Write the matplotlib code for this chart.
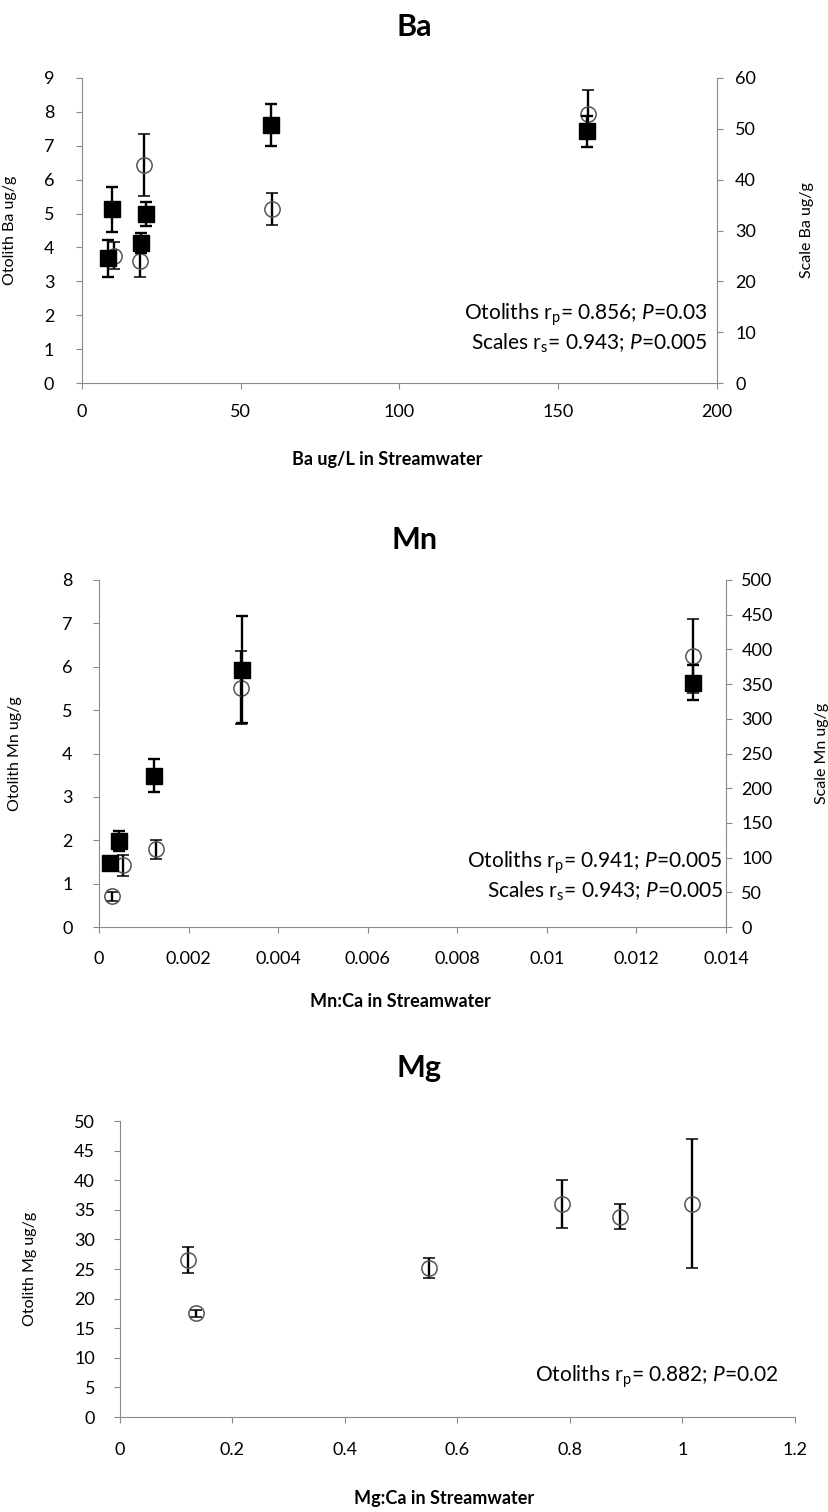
import numpy as np
import matplotlib
matplotlib.use("Agg")
import matplotlib.pyplot as plt

# ---- fonts ----
plt.rcParams['font.family'] = ['Lato', 'DejaVu Sans']
plt.rcParams['mathtext.fontset'] = 'custom'
plt.rcParams['mathtext.rm'] = 'Lato'
plt.rcParams['mathtext.it'] = 'Lato:italic'
plt.rcParams['mathtext.bf'] = 'Lato:bold'

# ---- Ba data ----
ba_oto_x = [10.2, 18.3, 19.6, 60.0, 159.3]
ba_oto_y = [3.75, 3.6, 6.43, 5.13, 7.95]
ba_oto_err = [0.4, 0.46, 0.92, 0.48, 0.7]
ba_scl_x = [8.3, 9.5, 18.5, 20.2, 59.4, 159.0]
ba_scl_y = [24.5, 34.2, 27.6, 33.2, 50.7, 49.5]
ba_scl_err = [3.7, 4.4, 2.0, 2.4, 4.1, 3.0]

# ---- Mn data ----
mn_oto_x = [0.00028, 0.00054, 0.00127, 0.00318, 0.01327]
mn_oto_y = [0.71, 1.42, 1.79, 5.52, 6.25]
mn_oto_err = [0.1, 0.24, 0.22, 0.85, 0.85]
mn_scl_x = [0.000255, 0.000447, 0.00123, 0.0032, 0.01327]
mn_scl_y = [92.5, 123.8, 218.0, 370.6, 352.0]
mn_scl_err = [6, 14, 24, 77, 25]

# ---- Mg data ----
mg_oto_x = [0.121, 0.135, 0.55, 0.785, 0.889, 1.017]
mg_oto_y = [26.5, 17.5, 25.2, 36.0, 33.8, 36.0]
mg_oto_err = [2.2, 0.6, 1.7, 4.0, 2.1, 10.9]

# ---- tick labels ----
ba_xticks = [0, 50, 100, 150, 200]
ba_yticks = list(range(0, 10))
ba_y2ticks = list(range(0, 61, 10))
mn_xticks = [0, 0.002, 0.004, 0.006, 0.008, 0.010, 0.012, 0.014]
mn_xlabels = ['0', '0.002', '0.004', '0.006', '0.008', '0.01', '0.012', '0.014']
mn_yticks = list(range(0, 9))
mn_y2ticks = list(range(0, 501, 50))
mg_xticks = [0, 0.2, 0.4, 0.6, 0.8, 1.0, 1.2]
mg_xlabels = ['0', '0.2', '0.4', '0.6', '0.8', '1', '1.2']
mg_yticks = list(range(0, 51, 5))

W, H = 829, 1512
fig = plt.figure(figsize=(W / 100, H / 100), dpi=100)
fig.patch.set_facecolor('white')

GREY = '#8a8a8a'
TICKFS = 13


def px_axes(l, r, t, b):
    return fig.add_axes([l / W, 1 - b / H, (r - l) / W, (b - t) / H])


def style(ax, right=False, xpad=11, ypad=14):
    for s in ['top', 'right', 'left', 'bottom']:
        ax.spines[s].set_visible(False)
    if right:
        ax.spines['right'].set_visible(True)
        ax.spines['right'].set_color(GREY)
    else:
        ax.spines['left'].set_visible(True)
        ax.spines['bottom'].set_visible(True)
        ax.spines['left'].set_color(GREY)
        ax.spines['bottom'].set_color(GREY)
    ax.tick_params(direction='out', length=4, color=GREY, labelsize=TICKFS)
    ax.tick_params(axis='x', pad=xpad)
    ax.tick_params(axis='y', pad=ypad)
    ax.set_facecolor('none')


def circles(ax, x, y, e):
    ax.errorbar(x, y, yerr=e, fmt='o', mfc='none', mec='#555555', mew=1.1, ms=11,
                ecolor='black', elinewidth=1.7, capsize=4, capthick=1.7, zorder=3)


def squares(ax, x, y, e):
    ax.errorbar(x, y, yerr=e, fmt='s', color='black', ms=11,
                ecolor='black', elinewidth=1.7, capsize=4, capthick=1.7, zorder=3)


def stats(ax, lines, xr, y0, dy):
    for i, t in enumerate(lines):
        ax.text(xr, y0 - i * dy, t, transform=ax.transAxes, ha='right', va='center',
                fontsize=15)


# ================= Ba =================
ax = px_axes(82, 717, 78, 383)
style(ax, xpad=11, ypad=16)
circles(ax, ba_oto_x, ba_oto_y, ba_oto_err)
ax.set_xlim(0, 200)
ax.set_ylim(0, 9)
ax.set_xticks(ba_xticks)
ax.set_yticks(ba_yticks)
ax.set_xlabel('Ba ug/L in Streamwater', fontsize=13, fontweight='bold')
ax.xaxis.set_label_coords(0.48, -0.222)
ax.set_ylabel('Otolith Ba ug/g', fontsize=11.5)
ax.yaxis.set_label_coords(-0.102, 0.5)
ax2 = ax.twinx()
style(ax2, right=True, ypad=9)
squares(ax2, ba_scl_x, ba_scl_y, ba_scl_err)
ax2.set_ylim(0, 60)
ax2.set_yticks(ba_y2ticks)
ax2.set_ylabel('Scale Ba ug/g', fontsize=11.5)
ax2.yaxis.set_label_coords(1.131, 0.5)
stats(ax2, ['Otoliths r$_{\\mathrm{p}}$= 0.856; $\\mathit{P}$=0.03',
            'Scales r$_{\\mathrm{s}}$= 0.943; $\\mathit{P}$=0.005'], 0.985, 0.225, 0.095)
fig.text(0.5, 1 - 27 / H, 'Ba', ha='center', va='center', fontsize=22, fontweight='bold')

# ================= Mn =================
ax = px_axes(99, 726, 580, 927)
style(ax, xpad=13, ypad=15)
circles(ax, mn_oto_x, mn_oto_y, mn_oto_err)
ax.set_xlim(0, 0.014)
ax.set_ylim(0, 8)
ax.set_xticks(mn_xticks)
ax.set_xticklabels(mn_xlabels)
ax.set_yticks(mn_yticks)
ax.set_xlabel('Mn:Ca in Streamwater', fontsize=13, fontweight='bold')
ax.xaxis.set_label_coords(0.48, -0.19)
ax.set_ylabel('Otolith Mn ug/g', fontsize=11.5)
ax.yaxis.set_label_coords(-0.123, 0.5)
ax2 = ax.twinx()
style(ax2, right=True, ypad=7)
squares(ax2, mn_scl_x, mn_scl_y, mn_scl_err)
ax2.set_ylim(0, 500)
ax2.set_yticks(mn_y2ticks)
ax2.set_ylabel('Scale Mn ug/g', fontsize=11.5)
ax2.yaxis.set_label_coords(1.142, 0.5)
stats(ax2, ['Otoliths r$_{\\mathrm{p}}$= 0.941; $\\mathit{P}$=0.005',
            'Scales r$_{\\mathrm{s}}$= 0.943; $\\mathit{P}$=0.005'], 0.995, 0.185, 0.083)
fig.text(0.5, 1 - 540 / H, 'Mn', ha='center', va='center', fontsize=22, fontweight='bold')

# ================= Mg =================
ax = px_axes(120, 795, 1121, 1417)
style(ax, xpad=14, ypad=14)
circles(ax, mg_oto_x, mg_oto_y, mg_oto_err)
ax.set_xlim(0, 1.2)
ax.set_ylim(0, 50)
ax.set_xticks(mg_xticks)
ax.set_xticklabels(mg_xlabels)
ax.set_yticks(mg_yticks)
ax.set_xlabel('Mg:Ca in Streamwater', fontsize=13, fontweight='bold')
ax.xaxis.set_label_coords(0.48, -0.245)
ax.set_ylabel('Otolith Mg ug/g', fontsize=11.5)
ax.yaxis.set_label_coords(-0.123, 0.5)
stats(ax, ['Otoliths r$_{\\mathrm{p}}$= 0.882; $\\mathit{P}$=0.02'], 0.975, 0.135, 0.1)
fig.text(0.505, 1 - 1068 / H, 'Mg', ha='center', va='center', fontsize=22, fontweight='bold')

fig.savefig('out.png', dpi=100, facecolor='white')
